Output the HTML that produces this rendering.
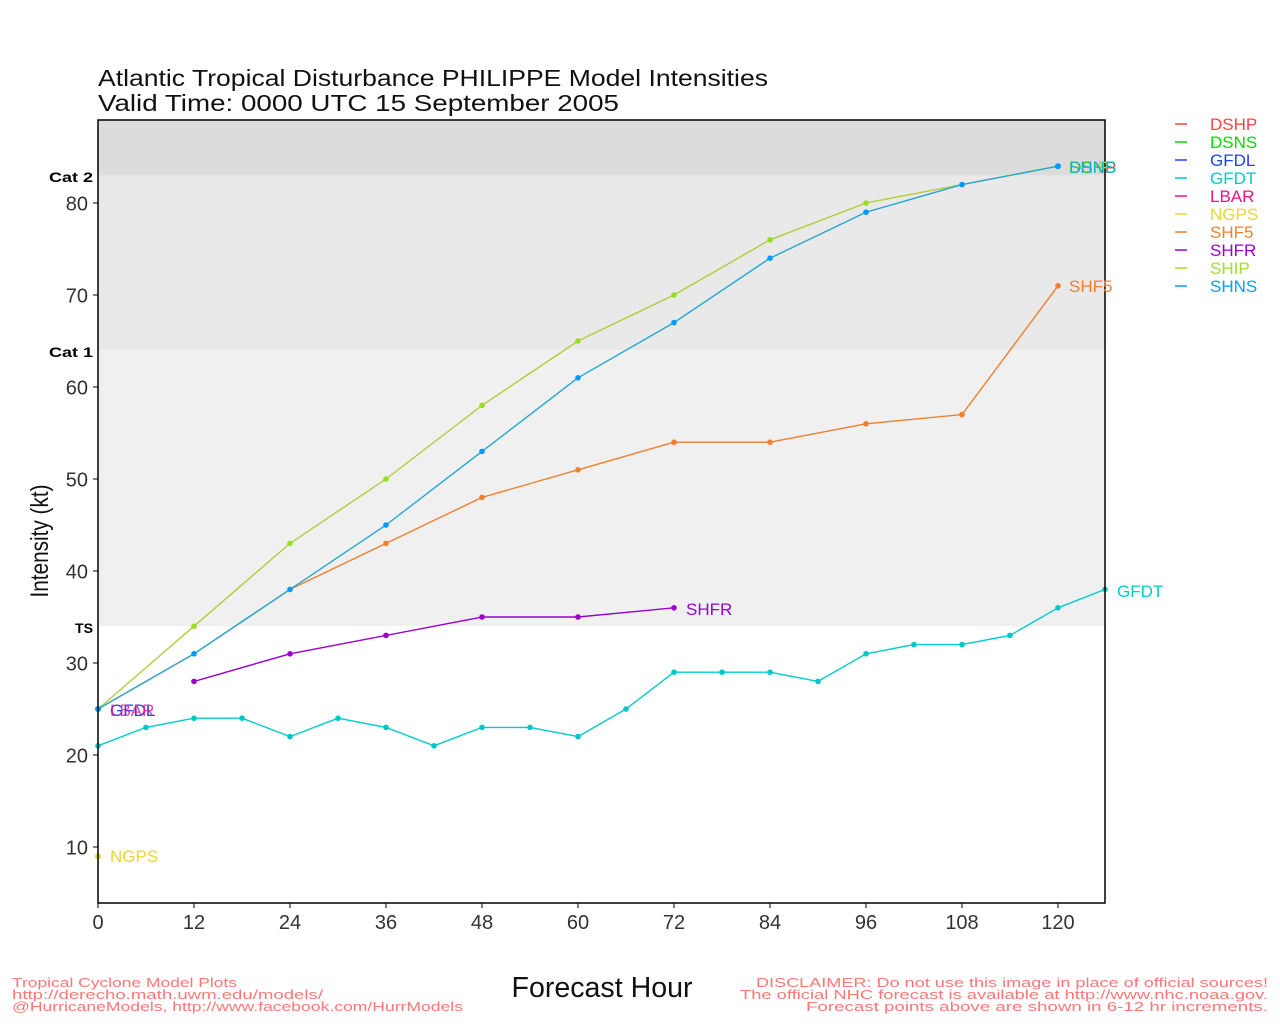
<!DOCTYPE html>
<html><head><meta charset="utf-8"><style>
html,body{margin:0;padding:0;background:#fff;}
svg{display:block;}
text{font-family:"Liberation Sans",sans-serif;}
</style></head><body>
<svg width="1280" height="1024" viewBox="0 0 1280 1024" xmlns="http://www.w3.org/2000/svg">
<!-- bands -->
<rect x="98" y="120" width="1007" height="55.4" fill="#dcdcdc"/>
<rect x="98" y="175.4" width="1007" height="174.8" fill="#e9e9e9"/>
<rect x="98" y="350.2" width="1007" height="276" fill="#f0f0f0"/>

<!-- title -->
<text x="98" y="86" font-size="23" fill="#111" textLength="670" lengthAdjust="spacingAndGlyphs">Atlantic Tropical Disturbance PHILIPPE Model Intensities</text>
<text x="98" y="111" font-size="23" fill="#111" textLength="521" lengthAdjust="spacingAndGlyphs">Valid Time: 0000 UTC 15 September 2005</text>

<!-- cat labels -->
<text x="49" y="182" font-size="14" font-weight="bold" textLength="44" lengthAdjust="spacingAndGlyphs">Cat 2</text>
<text x="49" y="357" font-size="14" font-weight="bold" textLength="44" lengthAdjust="spacingAndGlyphs">Cat 1</text>
<text x="75" y="633" font-size="14" font-weight="bold" textLength="18" lengthAdjust="spacingAndGlyphs">TS</text>

<!-- y ticks -->
<g stroke="#000" stroke-width="1">
<line x1="93" y1="203" x2="98" y2="203"/><line x1="93" y1="295" x2="98" y2="295"/>
<line x1="93" y1="387" x2="98" y2="387"/><line x1="93" y1="479" x2="98" y2="479"/>
<line x1="93" y1="571" x2="98" y2="571"/><line x1="93" y1="663" x2="98" y2="663"/>
<line x1="93" y1="755" x2="98" y2="755"/><line x1="93" y1="847" x2="98" y2="847"/>
</g>
<g font-size="20" fill="#333" text-anchor="end">
<text x="88" y="210.5">80</text><text x="88" y="302.5">70</text><text x="88" y="394.5">60</text>
<text x="88" y="486.5">50</text><text x="88" y="578.5">40</text><text x="88" y="670.5">30</text>
<text x="88" y="762.5">20</text><text x="88" y="854.5">10</text>
</g>

<!-- x ticks -->
<g stroke="#000" stroke-width="1">
<line x1="98" y1="903" x2="98" y2="908"/><line x1="194" y1="903" x2="194" y2="908"/>
<line x1="290" y1="903" x2="290" y2="908"/><line x1="386" y1="903" x2="386" y2="908"/>
<line x1="482" y1="903" x2="482" y2="908"/><line x1="578" y1="903" x2="578" y2="908"/>
<line x1="674" y1="903" x2="674" y2="908"/><line x1="770" y1="903" x2="770" y2="908"/>
<line x1="866" y1="903" x2="866" y2="908"/><line x1="962" y1="903" x2="962" y2="908"/>
<line x1="1058" y1="903" x2="1058" y2="908"/>
</g>
<g font-size="20" fill="#333" text-anchor="middle">
<text x="98" y="929">0</text><text x="194" y="929">12</text><text x="290" y="929">24</text>
<text x="386" y="929">36</text><text x="482" y="929">48</text><text x="578" y="929">60</text>
<text x="674" y="929">72</text><text x="770" y="929">84</text><text x="866" y="929">96</text>
<text x="962" y="929">108</text><text x="1058" y="929">120</text>
</g>

<!-- axis titles -->
<text x="602" y="997" font-size="29" fill="#111" text-anchor="middle" textLength="181" lengthAdjust="spacingAndGlyphs">Forecast Hour</text>
<text transform="translate(48,541) rotate(-90)" font-size="25" fill="#111" text-anchor="middle" textLength="113" lengthAdjust="spacingAndGlyphs">Intensity (kt)</text>

<!-- series -->
<g fill="none" stroke-width="1.4" stroke-linejoin="round">
<polyline stroke="#00cccc" points="98,745.8 146,727.4 194,718.2 242,718.2 290,736.6 338,718.2 386,727.4 434,745.8 482,727.4 530,727.4 578,736.6 626,709 674,672.2 722,672.2 770,672.2 818,681.4 866,653.8 914,644.6 962,644.6 1010,635.4 1058,607.8 1105,589.4"/>
<polyline stroke="#9900cc" points="194,681.4 290,653.8 386,635.4 482,617 578,617 674,607.8"/>
<polyline stroke="#f08030" points="98,709 194,653.8 290,589.4 386,543.4 482,497.4 578,469.8 674,442.2 770,442.2 866,423.8 962,414.6 1058,285.8"/>
<polyline stroke="#b4cc3a" points="98,709 194,626.2 290,543.4 386,479 482,405.4 578,341 674,295 770,239.8 866,203 962,184.6 1058,166.2"/>
<polyline stroke="#22a8d4" points="98,709 194,653.8 290,589.4 386,525 482,451.4 578,377.8 674,322.6 770,258.2 866,212.2 962,184.6 1058,166.2"/>
</g>
<g fill="#00c8c8">
<circle cx="98" cy="745.8" r="2.8"/><circle cx="146" cy="727.4" r="2.8"/><circle cx="194" cy="718.2" r="2.8"/><circle cx="242" cy="718.2" r="2.8"/><circle cx="290" cy="736.6" r="2.8"/><circle cx="338" cy="718.2" r="2.8"/><circle cx="386" cy="727.4" r="2.8"/><circle cx="434" cy="745.8" r="2.8"/><circle cx="482" cy="727.4" r="2.8"/><circle cx="530" cy="727.4" r="2.8"/><circle cx="578" cy="736.6" r="2.8"/><circle cx="626" cy="709" r="2.8"/><circle cx="674" cy="672.2" r="2.8"/><circle cx="722" cy="672.2" r="2.8"/><circle cx="770" cy="672.2" r="2.8"/><circle cx="818" cy="681.4" r="2.8"/><circle cx="866" cy="653.8" r="2.8"/><circle cx="914" cy="644.6" r="2.8"/><circle cx="962" cy="644.6" r="2.8"/><circle cx="1010" cy="635.4" r="2.8"/><circle cx="1058" cy="607.8" r="2.8"/><circle cx="1105" cy="589.4" r="2.8"/>
</g>
<g fill="#9900cc">
<circle cx="194" cy="681.4" r="2.8"/><circle cx="290" cy="653.8" r="2.8"/><circle cx="386" cy="635.4" r="2.8"/><circle cx="482" cy="617" r="2.8"/><circle cx="578" cy="617" r="2.8"/><circle cx="674" cy="607.8" r="2.8"/>
</g>
<g fill="#f08030">
<circle cx="386" cy="543.4" r="2.8"/><circle cx="482" cy="497.4" r="2.8"/><circle cx="578" cy="469.8" r="2.8"/><circle cx="674" cy="442.2" r="2.8"/><circle cx="770" cy="442.2" r="2.8"/><circle cx="866" cy="423.8" r="2.8"/><circle cx="962" cy="414.6" r="2.8"/><circle cx="1058" cy="285.8" r="2.8"/>
</g>
<g fill="#99dd22">
<circle cx="194" cy="626.2" r="2.8"/><circle cx="290" cy="543.4" r="2.8"/><circle cx="386" cy="479" r="2.8"/><circle cx="482" cy="405.4" r="2.8"/><circle cx="578" cy="341" r="2.8"/><circle cx="674" cy="295" r="2.8"/><circle cx="770" cy="239.8" r="2.8"/><circle cx="866" cy="203" r="2.8"/>
</g>
<g fill="#0099ff">
<circle cx="98" cy="709" r="3"/><circle cx="194" cy="653.8" r="2.8"/><circle cx="290" cy="589.4" r="2.8"/><circle cx="386" cy="525" r="2.8"/><circle cx="482" cy="451.4" r="2.8"/><circle cx="578" cy="377.8" r="2.8"/><circle cx="674" cy="322.6" r="2.8"/><circle cx="770" cy="258.2" r="2.8"/><circle cx="866" cy="212.2" r="2.8"/><circle cx="962" cy="184.6" r="2.8"/><circle cx="1058" cy="166.2" r="3"/>
</g>
<circle cx="98" cy="856.2" r="3" fill="#e8d830"/>

<!-- plot frame -->
<rect x="98" y="120" width="1007" height="783" fill="none" stroke="#000" stroke-width="1.5"/>

<!-- series labels -->
<g font-size="17">
<text x="110" y="862" fill="#e8d830">NGPS</text>
<text x="110" y="716" fill="#2040ff">GFDL</text>
<text x="110" y="716" fill="#ee1188" fill-opacity="0.8">LBAR</text>
<text x="686" y="615" fill="#9900cc">SHFR</text>
<text x="1069" y="292" fill="#f08030">SHF5</text>
<text x="1117" y="597" fill="#00cccc">GFDT</text>
<text x="1069" y="173" fill="#ff4040">DSHP</text>
<text x="1069" y="173" fill="#00dd00">DSNS</text>
<text x="1069" y="173" fill="#a0e030">SHIP</text>
<text x="1069" y="173" fill="#00a8f0" fill-opacity="0.85">SHNS</text>
</g>

<!-- legend -->
<g stroke-width="1.5">
<line x1="1175" y1="124" x2="1187" y2="124" stroke="#ff4040"/>
<line x1="1175" y1="142" x2="1187" y2="142" stroke="#00dd00"/>
<line x1="1175" y1="160" x2="1187" y2="160" stroke="#2040ff"/>
<line x1="1175" y1="178" x2="1187" y2="178" stroke="#00cccc"/>
<line x1="1175" y1="196" x2="1187" y2="196" stroke="#ee1188"/>
<line x1="1175" y1="214" x2="1187" y2="214" stroke="#e8d830"/>
<line x1="1175" y1="232" x2="1187" y2="232" stroke="#f08030"/>
<line x1="1175" y1="250" x2="1187" y2="250" stroke="#9900cc"/>
<line x1="1175" y1="268" x2="1187" y2="268" stroke="#a0e030"/>
<line x1="1175" y1="286" x2="1187" y2="286" stroke="#00a0ff"/>
</g>
<g font-size="17">
<text x="1210" y="130" fill="#ff4040">DSHP</text>
<text x="1210" y="148" fill="#00dd00">DSNS</text>
<text x="1210" y="166" fill="#2040ff">GFDL</text>
<text x="1210" y="184" fill="#00cccc">GFDT</text>
<text x="1210" y="202" fill="#ee1188">LBAR</text>
<text x="1210" y="220" fill="#e8d830">NGPS</text>
<text x="1210" y="238" fill="#f08030">SHF5</text>
<text x="1210" y="256" fill="#9900cc">SHFR</text>
<text x="1210" y="274" fill="#a0e030">SHIP</text>
<text x="1210" y="292" fill="#00a0ff">SHNS</text>
</g>

<!-- footer -->
<g font-size="13" fill="#ff7777">
<text x="12" y="987" textLength="225" lengthAdjust="spacingAndGlyphs">Tropical Cyclone Model Plots</text>
<text x="12" y="999" textLength="311" lengthAdjust="spacingAndGlyphs">http://derecho.math.uwm.edu/models/</text>
<text x="12" y="1011" textLength="451" lengthAdjust="spacingAndGlyphs">@HurricaneModels, http://www.facebook.com/HurrModels</text>
<text x="1268" y="987" text-anchor="end" textLength="512" lengthAdjust="spacingAndGlyphs">DISCLAIMER: Do not use this image in place of official sources!</text>
<text x="1268" y="999" text-anchor="end" textLength="528" lengthAdjust="spacingAndGlyphs">The official NHC forecast is available at http://www.nhc.noaa.gov.</text>
<text x="1268" y="1011" text-anchor="end" textLength="462" lengthAdjust="spacingAndGlyphs">Forecast points above are shown in 6-12 hr increments.</text>
</g>
</svg>
</body></html>
